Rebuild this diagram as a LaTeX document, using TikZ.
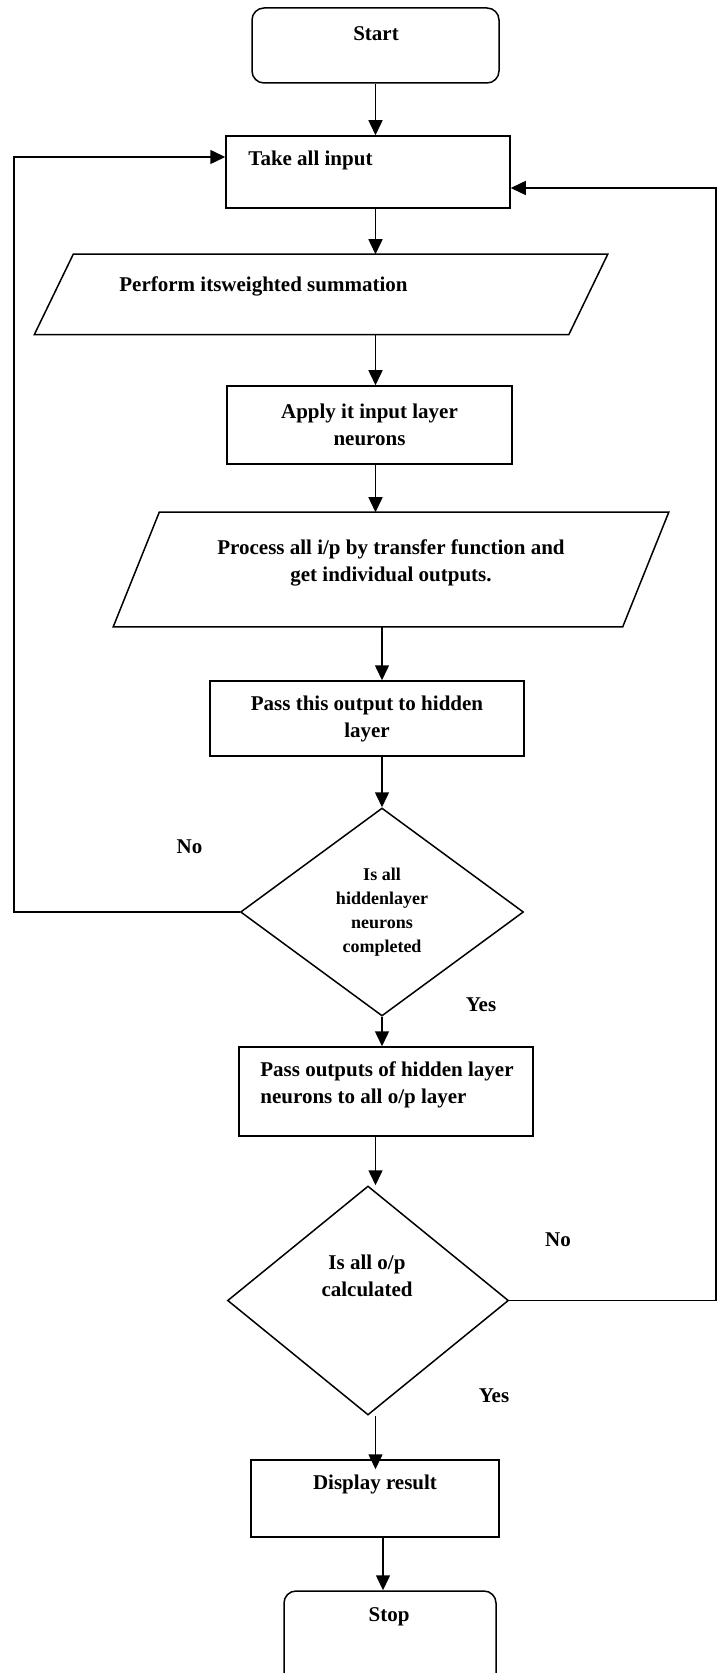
\documentclass[tikz,border=0pt]{standalone}
\usepackage{fontspec}
\setmainfont{Liberation Serif}
\usetikzlibrary{shapes.geometric, arrows.meta}

\begin{document}
\begin{tikzpicture}[x=0.5pt, y=-0.5pt]
    % Styles
    \tikzstyle{box} = [rectangle, draw=black, line width=0.75pt, inner sep=0pt, align=center, font={\fontsize{10.5}{13.5}\selectfont\bfseries}]
    \tikzstyle{term} = [box, rounded corners=6pt]
    \tikzstyle{slantbox} = [box, draw=none]
    \tikzstyle{decision} = [diamond, draw=black, line width=0.75pt, inner sep=0pt, align=center, font={\fontsize{9}{12}\selectfont\bfseries}]
    \tikzstyle{txt} = [inner sep=0pt, align=center, font={\fontsize{10.5}{13.5}\selectfont\bfseries}]
    \tikzstyle{outline} = [line width=0.75pt]
    \tikzstyle{arrow} = [->, >={Triangle[length=7.5pt, width=7pt]}, line width=0.75pt]

    \useasboundingbox (0,0) rectangle (723,1673);

    % Nodes
    \node[term, minimum width=123.5pt, minimum height=37.5pt] (start) at (375.5,45.5) {};
    \node[txt] (start-txt) at (376,34) {Start};

    \node[box, minimum width=142pt, minimum height=36pt] (take) at (368,172) {};
    \node[txt, anchor=west] (take-txt) at (248,160) {Take all input};

    \node[slantbox, minimum width=286pt, minimum height=39.5pt] (sum) at (321,294.5) {};
    \draw[outline] ([xshift=19.5pt]sum.north west) -- (sum.north east) -- ([xshift=-19.5pt]sum.south east) -- (sum.south west) -- cycle;
    \node[txt, anchor=west] (sum-txt) at (119,286) {Perform itsweighted summation};

    \node[box, minimum width=142.5pt, minimum height=39pt] (apply) at (369.5,425) {Apply it input layer\\neurons};

    \node[slantbox, minimum width=277pt, minimum height=56.5pt] (proc) at (391,569.5) {};
    \draw[outline] ([xshift=23pt]proc.north west) -- (proc.north east) -- ([xshift=-23pt]proc.south east) -- (proc.south west) -- cycle;
    \node[txt] (proc-txt) at (391,562.5) {Process all i/p by transfer function and\\get individual outputs.};

    \node[box, minimum width=157pt, minimum height=37.5pt] (hidden) at (367,718.5) {Pass this output to hidden\\layer};

    \node[decision, minimum width=141.5pt, minimum height=104pt] (dec1) at (382,912) {Is all\\hiddenlayer\\neurons\\completed};

    \node[box, minimum width=147pt, minimum height=44.5pt] (out) at (386,1091.5) {};
    \node[txt, anchor=west, align=left] (out-txt) at (260,1084.5) {Pass outputs of hidden layer\\neurons to all o/p layer};

    \node[decision, minimum width=140.5pt, minimum height=114.5pt] (dec2) at (368,1300.5) {};
    \node[txt] (dec2-txt) at (367,1275.5) {Is all o/p\\calculated};

    \node[box, minimum width=124pt, minimum height=38.5pt] (display) at (375,1498.5) {};
    \node[txt] (display-txt) at (375,1484) {Display result};

    \node[term, minimum width=106pt, minimum height=49.5pt] (stop) at (390,1640.5) {};
    \node[txt] (stop-txt) at (389,1617) {Stop};

    % Branch labels
    \node[txt] (no1) at (189.5,847) {No};
    \node[txt] (yes1) at (481,1005) {Yes};
    \node[txt] (no2) at (558,1240) {No};
    \node[txt] (yes2) at (494,1396) {Yes};

    % Loop corners
    \coordinate (loopL) at (14,912);
    \coordinate (loopR) at (716,1300.5);

    % Arrows
    \draw[arrow] (start.south) -- (start.south |- take.north);
    \draw[arrow] (take.south -| start.south) -- (sum.north -| start.south);
    \draw[arrow] (sum.south -| start.south) -- (apply.north -| start.south);
    \draw[arrow] (apply.south -| start.south) -- (proc.north -| start.south);
    \draw[arrow] (proc.south -| dec1.north) -- (hidden.north -| dec1.north);
    \draw[arrow] (hidden.south -| dec1.north) -- (dec1.north);
    \draw[arrow] (dec1.south) -- (out.north -| dec1.south);
    \draw[arrow] (out.south -| start.south) -- (dec2.north -| start.south);
    \draw[arrow, shorten >=-5pt] (dec2.south -| start.south) -- (display.north -| start.south);
    \draw[arrow] ([xshift=4pt]display.south) -- ([xshift=4pt]display.south |- stop.north);

    % Loops back to input
    \draw[arrow] (dec1.west) -- (loopL) |- ([yshift=7.5pt]take.west);
    \draw[arrow] (dec2.east) -- (loopR) |- ([yshift=-8pt]take.east);
\end{tikzpicture}
\end{document}
